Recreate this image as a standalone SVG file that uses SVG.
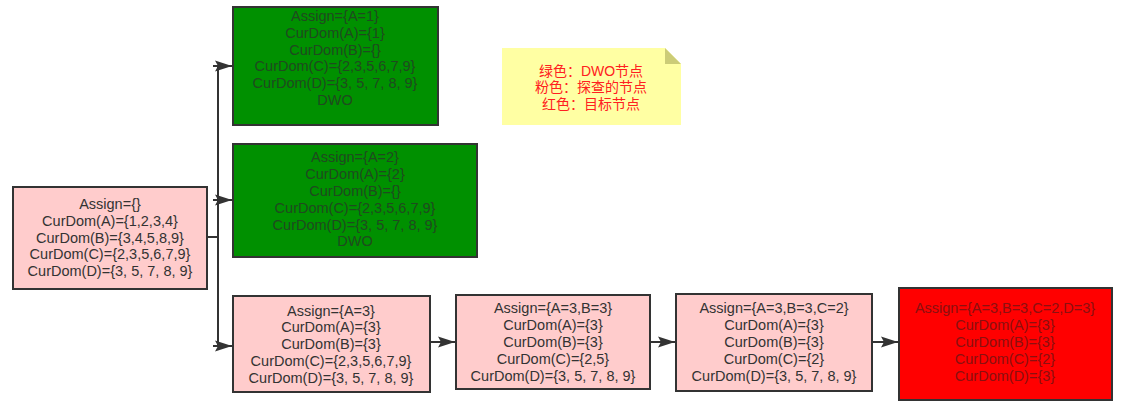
<svg xmlns="http://www.w3.org/2000/svg" width="1125" height="405" viewBox="0 0 1125 405">
<defs>
<style>
.box{stroke:#333;stroke-width:2}
.t{font-family:"Liberation Sans","Noto Sans CJK SC",sans-serif;font-size:14.5px;text-anchor:middle;fill:#333}
.tg{fill:#1f4a1f}
.tr{fill:#8a1010}
.note{font-family:"Liberation Sans","Noto Sans CJK SC",sans-serif;font-size:14px;text-anchor:middle;fill:#ff2020}
.c{stroke:#333;stroke-width:2;fill:none}
</style>
<marker id="ah" viewBox="0 0 17 12" refX="17" refY="6" markerWidth="17" markerHeight="12" markerUnits="userSpaceOnUse" orient="auto">
<path d="M0,0.5 L17,6 L0,11.5 L3,6 Z" fill="#333"/>
</marker>
</defs>
<rect width="1125" height="405" fill="#fff"/>
<g id="connectors">
<path class="c" d="M207,237 H218"/>
<path class="c" d="M218,346 V66"/>
<path class="c" d="M213,66 H232" marker-end="url(#ah)"/>
<path class="c" d="M213,200 H232" marker-end="url(#ah)"/>
<path class="c" d="M213,346 H232" marker-end="url(#ah)"/>
<path class="c" d="M430,342 H455" marker-end="url(#ah)"/>
<path class="c" d="M650,342 H675" marker-end="url(#ah)"/>
<path class="c" d="M872,342 H898" marker-end="url(#ah)"/>
</g>
<g id="root">
<rect class="box" x="13" y="187" width="194" height="102" fill="#ffcccc"/>
<text class="t" x="110" y="209">Assign={}</text>
<text class="t" x="110" y="226">CurDom(A)={1,2,3,4}</text>
<text class="t" x="110" y="243">CurDom(B)={3,4,5,8,9}</text>
<text class="t" x="110" y="259">CurDom(C)={2,3,5,6,7,9}</text>
<text class="t" x="110" y="276">CurDom(D)={3, 5, 7, 8, 9}</text>
</g>
<g id="a1">
<rect class="box" x="233" y="7" width="205" height="118" fill="#009000"/>
<text class="t tg" x="335" y="21">Assign={A=1}</text>
<text class="t tg" x="335" y="38">CurDom(A)={1}</text>
<text class="t tg" x="335" y="55">CurDom(B)={}</text>
<text class="t tg" x="335" y="71">CurDom(C)={2,3,5,6,7,9}</text>
<text class="t tg" x="335" y="88">CurDom(D)={3, 5, 7, 8, 9}</text>
<text class="t tg" x="335" y="105">DWO</text>
</g>
<g id="a2">
<rect class="box" x="233" y="144" width="244" height="113" fill="#009000"/>
<text class="t tg" x="355" y="162">Assign={A=2}</text>
<text class="t tg" x="355" y="179">CurDom(A)={2}</text>
<text class="t tg" x="355" y="196">CurDom(B)={}</text>
<text class="t tg" x="355" y="213">CurDom(C)={2,3,5,6,7,9}</text>
<text class="t tg" x="355" y="230">CurDom(D)={3, 5, 7, 8, 9}</text>
<text class="t tg" x="355" y="246">DWO</text>
</g>
<g id="a3">
<rect class="box" x="233" y="296" width="197" height="96" fill="#ffcccc"/>
<text class="t" x="331" y="316">Assign={A=3}</text>
<text class="t" x="331" y="332">CurDom(A)={3}</text>
<text class="t" x="331" y="349">CurDom(B)={3}</text>
<text class="t" x="331" y="366">CurDom(C)={2,3,5,6,7,9}</text>
<text class="t" x="331" y="383">CurDom(D)={3, 5, 7, 8, 9}</text>
</g>
<g id="a3b3">
<rect class="box" x="456" y="295" width="194" height="94" fill="#ffcccc"/>
<text class="t" x="553" y="313">Assign={A=3,B=3}</text>
<text class="t" x="553" y="330">CurDom(A)={3}</text>
<text class="t" x="553" y="347">CurDom(B)={3}</text>
<text class="t" x="553" y="364">CurDom(C)={2,5}</text>
<text class="t" x="553" y="381">CurDom(D)={3, 5, 7, 8, 9}</text>
</g>
<g id="a3b3c2">
<rect class="box" x="676" y="294" width="196" height="97" fill="#ffcccc"/>
<text class="t" x="774" y="313">Assign={A=3,B=3,C=2}</text>
<text class="t" x="774" y="330">CurDom(A)={3}</text>
<text class="t" x="774" y="347">CurDom(B)={3}</text>
<text class="t" x="774" y="364">CurDom(C)={2}</text>
<text class="t" x="774" y="381">CurDom(D)={3, 5, 7, 8, 9}</text>
</g>
<g id="goal">
<rect class="box" x="899" y="288" width="213" height="112" fill="#ff0000"/>
<text class="t tr" x="1005" y="313">Assign={A=3,B=3,C=2,D=3}</text>
<text class="t tr" x="1005" y="330">CurDom(A)={3}</text>
<text class="t tr" x="1005" y="347">CurDom(B)={3}</text>
<text class="t tr" x="1005" y="364">CurDom(C)={2}</text>
<text class="t tr" x="1005" y="381">CurDom(D)={3}</text>
</g>
<g id="legend">
<path d="M502,48 H665 L681,64 V125 H502 Z" fill="#ffffa3"/>
<path d="M665,48 L681,64 H665 Z" fill="#cccc77"/>
<text class="note" x="591" y="76">绿色：DWO节点</text>
<text class="note" x="591" y="92">粉色：探查的节点</text>
<text class="note" x="591" y="109">红色：目标节点</text>
</g>
</svg>
